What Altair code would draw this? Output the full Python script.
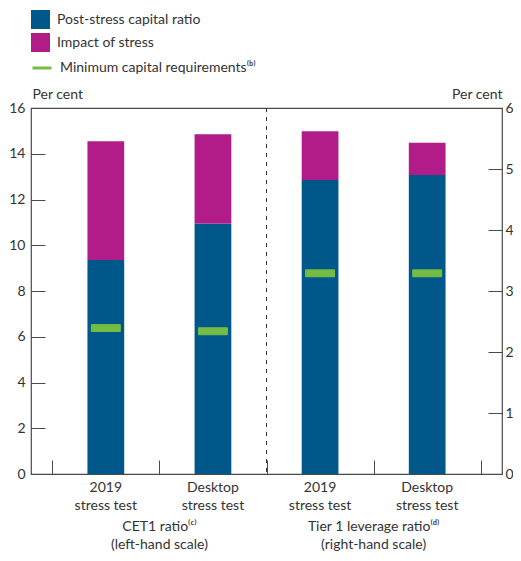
import json
import altair as alt
import pandas as pd

# ---------------- data ----------------
cat_keys = ["cet1_2019", "cet1_desktop", "lev_2019", "lev_desktop"]
cat_labels = [["2019", "stress test"], ["Desktop", "stress test"],
              ["2019", "stress test"], ["Desktop", "stress test"]]

series_names = ["Post-stress capital ratio", "Impact of stress",
                "Minimum capital requirements\u207d\u1d47\u207e"]
series_colors = ["#00578a", "#b11c88", "#74bc43"]

cet_keys = ["cet1_2019", "cet1_desktop"]
cet_post = [9.35, 10.95]
cet_impact = [5.2, 3.9]
cet_min = [6.38, 6.24]

lev_keys = ["lev_2019", "lev_desktop"]
lev_post = [4.82, 4.9]
lev_impact = [0.8, 0.53]
lev_min = [3.29, 3.29]

left_ticks = [0, 2, 4, 6, 8, 10, 12, 14, 16]
right_ticks = [0, 1, 2, 3, 4, 5, 6]

group_keys = ["cet1_2019", "lev_2019"]
group_labels = ["CET1 ratio\u207d\u1d9c\u207e\n(left-hand scale)",
                "Tier 1 leverage ratio\u207d\u1d48\u207e\n(right-hand scale)"]
divider_keys = ["lev_2019"]

# ---------------- layout ----------------
W, H = 471, 366
TOP = 100
PI, PO = 0.657, 0.527
step = W / (len(cat_keys) - PI + 2 * PO)
half_gap = PI * step / 2

FONT = "Lato"
FS = 14
TXT = "#333333"
LINE = "#4a4a4a"


def stack_df(keys, post, impact):
    rows = []
    for k, p, i in zip(keys, post, impact):
        rows.append({"key": k, "series": series_names[0], "value": p, "ord": 0})
        rows.append({"key": k, "series": series_names[1], "value": i, "ord": 1})
    return pd.DataFrame(rows)


cet_df = stack_df(cet_keys, cet_post, cet_impact)
lev_df = stack_df(lev_keys, lev_post, lev_impact)
cet_min_df = pd.DataFrame({"key": cet_keys, "minv": cet_min, "series": series_names[2]})
lev_min_df = pd.DataFrame({"key": lev_keys, "minv": lev_min, "series": series_names[2]})
grp_df = pd.DataFrame({"key": group_keys, "label": group_labels})
div_df = pd.DataFrame({"key": divider_keys})
last_df = pd.DataFrame({"key": cat_keys[-1:]})

x_scale = alt.Scale(domain=cat_keys, paddingInner=PI, paddingOuter=PO)

label_expr = " : ".join(
    f"datum.value === {json.dumps(k)} ? {json.dumps(l)}" for k, l in zip(cat_keys, cat_labels)
) + " : ''"

color_legend = alt.Legend(
    title=None, orient="none", legendX=0, legendY=-98,
    symbolType="square", symbolSize=361, symbolStrokeWidth=0, rowPadding=4, labelOffset=7,
    labelFont=FONT, labelFontSize=FS, labelColor=TXT, padding=0, labelLimit=400,
)
color_enc = alt.Color("series:N",
                      scale=alt.Scale(domain=series_names[:2], range=series_colors[:2]),
                      legend=color_legend)

stroke_legend = alt.Legend(
    title=None, orient="none", legendX=0, legendY=-51,
    symbolType="stroke", symbolSize=361, symbolStrokeWidth=3, labelOffset=7,
    labelFont=FONT, labelFontSize=FS, labelColor=TXT, padding=0, labelLimit=400,
)
stroke_enc = alt.Stroke("series:N",
                        scale=alt.Scale(domain=series_names[2:], range=series_colors[2:]),
                        legend=stroke_legend)

left_scale = alt.Scale(domain=[0, 16], nice=False, zero=True)
right_scale = alt.Scale(domain=[0, 6], nice=False, zero=True)

x_none = alt.X("key:N", scale=x_scale, sort=cat_keys, axis=None)

# CET1 bars (left scale, labelled left axis)
cet_bars = alt.Chart(cet_df).mark_bar().encode(
    x=x_none,
    y=alt.Y("value:Q", stack="zero", scale=left_scale,
            axis=alt.Axis(orient="left", values=left_ticks, tickSize=0, domain=False, grid=False,
                          labelPadding=6, labelFont=FONT, labelFontSize=FS, labelColor=TXT,
                          title="Per cent", titleAngle=0, titleAlign="left",
                          titleBaseline="middle", titleX=1, titleY=-14,
                          titleFont=FONT, titleFontSize=FS, titleFontWeight="normal",
                          titleColor=TXT)),
    color=color_enc,
    order=alt.Order("ord:Q"),
)

# CET1 minimum markers + inward tick axis for left scale
cet_mins = alt.Chart(cet_min_df).mark_tick(size=29, thickness=7, opacity=1,
                                           fill=series_colors[2], strokeWidth=1).encode(
    x=x_none,
    y=alt.Y("minv:Q", scale=left_scale,
            axis=alt.Axis(orient="right", offset=-W, values=left_ticks, tickSize=14,
                          tickColor=LINE, labels=False, domain=False, grid=False, title=None)),
    stroke=stroke_enc,
)

# Leverage bars (right scale, labelled right axis)
lev_bars = alt.Chart(lev_df).mark_bar().encode(
    x=x_none,
    y=alt.Y("value:Q", stack="zero", scale=right_scale,
            axis=alt.Axis(orient="right", values=right_ticks, tickSize=0, domain=False, grid=False,
                          labelPadding=3, labelFont=FONT, labelFontSize=FS, labelColor=TXT,
                          title="Per cent", titleAngle=0, titleAlign="right",
                          titleBaseline="middle", titleX=0, titleY=-14,
                          titleFont=FONT, titleFontSize=FS, titleFontWeight="normal",
                          titleColor=TXT)),
    color=color_enc,
    order=alt.Order("ord:Q"),
)

lev_mins = alt.Chart(lev_min_df).mark_tick(size=29, thickness=7, opacity=1,
                                           fill=series_colors[2], strokeWidth=1).encode(
    x=x_none,
    y=alt.Y("minv:Q", scale=right_scale,
            axis=alt.Axis(orient="left", offset=-W, values=right_ticks, tickSize=14,
                          tickColor=LINE, labels=False, domain=False, grid=False, title=None)),
    stroke=stroke_enc,
)

# dashed divider, carrying inward x ticks at the left edge of every band
divider = alt.Chart(div_df).mark_rule(strokeDash=[4, 5], color="#333", strokeWidth=1,
                                      xOffset=-half_gap).encode(
    x=alt.X("key:N", scale=x_scale, sort=cat_keys, bandPosition=0,
            axis=alt.Axis(orient="top", offset=-H, title=None, labels=False, domain=False,
                          bandPosition=0.5, tickOffset=-step / 2, values=cat_keys,
                          tickSize=14, tickColor=LINE)),
    y=alt.value(0), y2=alt.value(H),
)

# invisible carrier for the final inward x tick at the right end
end_tick = alt.Chart(last_df).mark_point(opacity=0).encode(
    x=alt.X("key:N", scale=x_scale, sort=cat_keys,
            axis=alt.Axis(orient="top", offset=-H, title=None, labels=False, domain=False,
                          bandPosition=0.5, tickOffset=step / 2, values=cat_keys[-1:],
                          tickSize=14, tickColor=LINE)),
    y=alt.value(0),
)

# group labels, carrying the labelled bottom x axis
group_text = alt.Chart(grp_df).mark_text(lineBreak="\n", baseline="middle", align="center",
                                         font=FONT, fontSize=FS, color=TXT, lineHeight=18,
                                         dx=half_gap).encode(
    x=alt.X("key:N", scale=x_scale, sort=cat_keys, bandPosition=1,
            axis=alt.Axis(orient="bottom", title=None, labelExpr=label_expr, labelAngle=0,
                          tickSize=0, domain=False, labelPadding=6, labelLineHeight=18,
                          labelFont=FONT, labelFontSize=FS, labelColor=TXT)),
    y=alt.value(H + 53),
    text="label:N",
)

left_group = alt.layer(cet_bars, cet_mins).resolve_axis(y="independent")
right_group = alt.layer(lev_bars, lev_mins).resolve_axis(y="independent")

chart = alt.layer(left_group, right_group, divider, end_tick, group_text).resolve_scale(
    y="independent"
).resolve_axis(x="independent").properties(
    width=W, height=H,
    autosize=alt.AutoSizeParams(type="none"),
    padding={"left": 23, "top": TOP, "right": 11, "bottom": 545 - TOP - H},
).configure_view(stroke=LINE, strokeWidth=1.2)

chart.save("out.html", embed_options={"renderer": "svg", "actions": False})
